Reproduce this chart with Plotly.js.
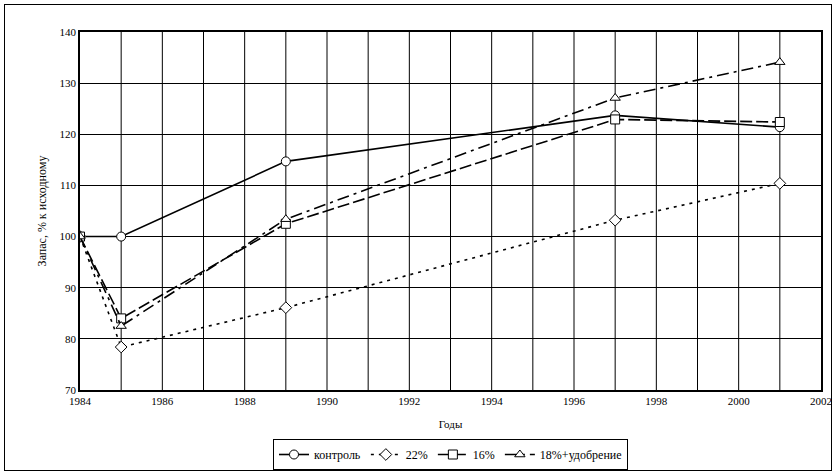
<!DOCTYPE html>
<html><head><meta charset="utf-8">
<script src="https://cdn.plot.ly/plotly-3.0.1.min.js"></script>
<style>body{margin:0}#plot{position:absolute;left:4px;top:4px;width:826px;height:465px;border:1px solid #000}</style>
</head><body><div id="plot"></div>
<script>
var years = [1984, 1985, 1989, 1997, 2001]
var control = [100, 100, 114.7, 123.7, 121.4]
var p22 = [100, 78.4, 86.1, 103.2, 110.4]
var p16 = [100, 84.0, 102.5, 122.9, 122.4]
var p18fert = [100, 82.5, 103.4, 127.1, 134.1]
var names = ["контроль", "22%", "16%", "18%+удобрение"]
var xticks = [1984, 1986, 1988, 1990, 1992, 1994, 1996, 1998, 2000, 2002]

function tr(y, name, sym, dash){
    return {x: years, y: y, name: name, mode: "lines+markers", type: "scatter",
        line: {color: "#000", width: 1.6, dash: dash},
        marker: {symbol: sym, size: 9, color: "#fff", line: {color: "#000", width: 1}}}
}
var data = [
    tr(control, names[0], "circle", "solid"),
    tr(p22, names[1], "diamond", "3px,5px"),
    tr(p16, names[2], "square", "12px,4px"),
    tr(p18fert, names[3], "triangle-up", "12px,5px,3px,5px")
]
var layout = {
    width: 826, height: 465,
    margin: {l: 75, r: 10, t: 27, b: 80},
    font: {family: "Liberation Serif", size: 11, color: "#000"},
    showlegend: true,
    legend: {orientation: "h", x: 0.5, xanchor: "center", yref: "container", y: -0.01, yanchor: "bottom",
        bordercolor: "#000", borderwidth: 1, font: {size: 12}, itemwidth: 30, tracegroupgap: 0},
    xaxis: {range: [1984, 2002], tickvals: xticks.slice(0, -1),
        showgrid: false, zeroline: false,
        showline: true, linecolor: "#000", mirror: true, linewidth: 1.5,
        title: {text: "Годы", font: {size: 11}, standoff: 14}},
    yaxis: {range: [70, 140], dtick: 10, gridcolor: "#000", gridwidth: 1, zeroline: false,
        showline: true, linecolor: "#000", mirror: true, linewidth: 1.5,
        title: {text: "Запас, % к исходному", font: {size: 12}}},
    annotations: [{x: xticks[xticks.length - 1], xref: "x", y: 0, yref: "paper", yanchor: "top", yshift: -3,
        text: String(xticks[xticks.length - 1]), showarrow: false, font: {size: 11}}],
    shapes: []
}
for (var yr = 1985; yr < 2002; yr++){
    layout.shapes.push({type: "line", xref: "x", yref: "y domain", x0: yr, x1: yr, y0: 0, y1: 1,
        line: {color: "#000", width: 1}, layer: "below"})
}
Plotly.newPlot("plot", data, layout, {displayModeBar: false})
</script></body></html>
